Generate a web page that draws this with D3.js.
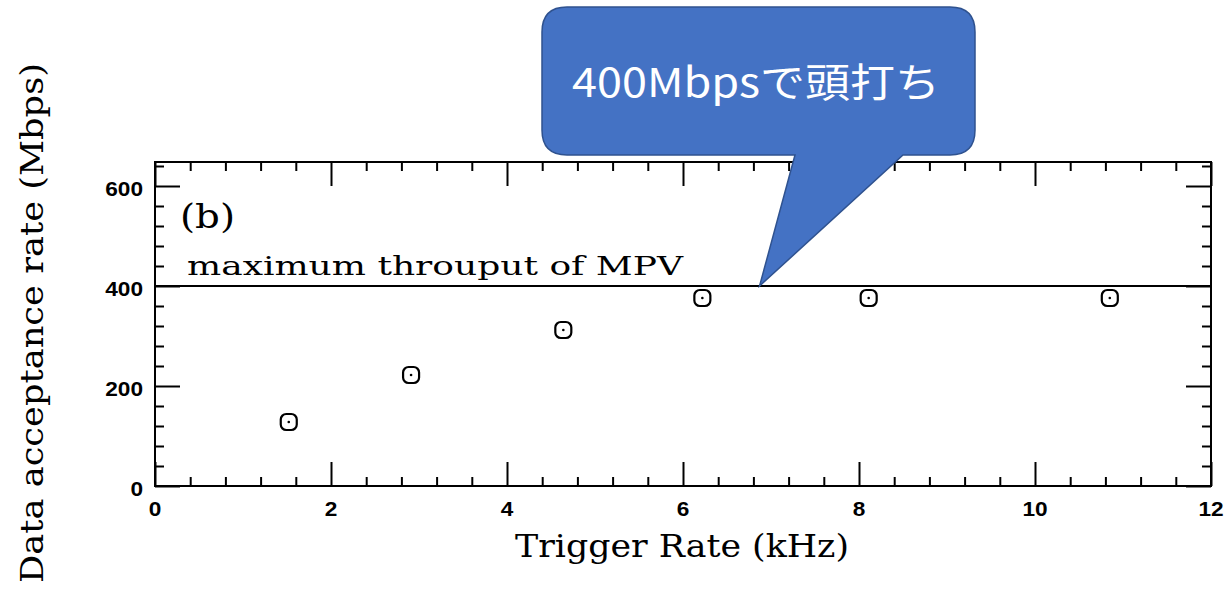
<!DOCTYPE html>
<html><head><meta charset="utf-8">
<script src="https://cdn.jsdelivr.net/npm/d3@7"></script>
<style>body{margin:0;background:#fff}</style>
</head><body>
<script>
const triggerRate = [1.52, 2.91, 4.64, 6.22, 8.11, 10.85];
const acceptance  = [128, 222, 312, 376, 376, 376];
const xTicks = [0, 2, 4, 6, 8, 10, 12];
const yTicks = [0, 200, 400, 600];
const maxThroughput = 400;
const calloutText = "400Mbpsで頭打ち";

const W = 1228, H = 590;
const svg = d3.select("body").append("svg").attr("width", W).attr("height", H);
const m = {l:155, r:1211, t:162, b:486};
const x = d3.scaleLinear().domain([0,12]).range([m.l, m.r]);
const y = d3.scaleLinear().domain([0,648]).range([m.b, m.t]);

const g = svg.append("g");
g.append("rect").attr("x",m.l).attr("y",m.t).attr("width",m.r-m.l).attr("height",m.b-m.t)
 .attr("fill","none").attr("stroke","#000").attr("stroke-width",2);

const xMinor = d3.range(0, 12.001, 0.4).filter(v => Math.abs(v/2 - Math.round(v/2))>1e-6);
const yMinor = d3.range(0, 648, 40).filter(v => v%200!==0);

function ticks(axisFn, vals, len, pos){
  const a = axisFn.tickValues(vals).tickSize(len).tickFormat("");
  const gg = g.append("g").attr("transform", pos).call(a);
  gg.select(".domain").remove();
  gg.selectAll("line").attr("stroke","#000").attr("stroke-width",2);
  return gg;
}
ticks(d3.axisTop(x), xTicks, 24, `translate(0,${m.b})`);
ticks(d3.axisTop(x), xMinor, 9, `translate(0,${m.b})`);
ticks(d3.axisBottom(x), xTicks, 24, `translate(0,${m.t})`);
ticks(d3.axisBottom(x), xMinor, 9, `translate(0,${m.t})`);
ticks(d3.axisRight(y), yTicks, 25, `translate(${m.l},0)`);
ticks(d3.axisRight(y), yMinor, 9, `translate(${m.l},0)`);
ticks(d3.axisLeft(y), yTicks, 25, `translate(${m.r},0)`);
ticks(d3.axisLeft(y), yMinor, 9, `translate(${m.r},0)`);

const tf = "Liberation Sans, Arial, sans-serif";
g.selectAll(".xl").data(xTicks).enter().append("text")
 .attr("x", d=>x(d)).attr("y", m.b+30).attr("text-anchor","middle")
 .attr("font-family",tf).attr("font-weight","bold").attr("font-size",21)
 .attr("textLength", d=>String(d).length*12.6).attr("lengthAdjust","spacingAndGlyphs").text(d=>d);
g.selectAll(".yl").data(yTicks).enter().append("text")
 .attr("x", m.l-12).attr("y", d=>y(d)+10).attr("text-anchor","end")
 .attr("font-family",tf).attr("font-weight","bold").attr("font-size",20)
 .attr("textLength", d=>String(d).length*12.6).attr("lengthAdjust","spacingAndGlyphs").text(d=>d);

g.append("line").attr("x1",m.l).attr("x2",m.r).attr("y1",y(maxThroughput)).attr("y2",y(maxThroughput))
 .attr("stroke","#000").attr("stroke-width",2);

const sf = "DejaVu Serif, Liberation Serif, serif";
g.append("text").attr("x",187).attr("y",275).attr("font-family",sf).attr("font-size",26)
 .attr("textLength",496).attr("lengthAdjust","spacingAndGlyphs").text("maximum throuput of MPV");
g.append("text").attr("x",180).attr("y",228).attr("font-family",sf).attr("font-size",33)
 .attr("textLength",55).attr("lengthAdjust","spacingAndGlyphs").text("(b)");

g.append("text").attr("x",515).attr("y",557)
 .attr("font-family",sf).attr("font-size",31).attr("textLength",334).attr("lengthAdjust","spacingAndGlyphs")
 .text("Trigger Rate (kHz)");
g.append("text").attr("transform","translate(43,323) rotate(-90)").attr("text-anchor","middle")
 .attr("font-family",sf).attr("font-size",31).attr("textLength",520).attr("lengthAdjust","spacingAndGlyphs")
 .text("Data acceptance rate (Mbps)");

const pts = g.selectAll(".pt").data(triggerRate.map((d,i)=>[d,acceptance[i]])).enter().append("g")
 .attr("transform", d=>`translate(${x(d[0])},${y(d[1])})`);
pts.append("rect").attr("x",-8).attr("y",-8).attr("width",16).attr("height",16).attr("rx",5.5)
 .attr("fill","none").attr("stroke","#000").attr("stroke-width",2.2);
pts.append("circle").attr("r",1.3).attr("fill","#000");

const cx0=542, cx1=975, cy0=7, cy1=155, r=25;
const tip=[x(6.87), y(maxThroughput)];
const path = `M${cx0+r},${cy0} H${cx1-r} Q${cx1},${cy0} ${cx1},${cy0+r} V${cy1-r} Q${cx1},${cy1} ${cx1-r},${cy1}
 H903 L${tip[0]},${tip[1]} L795,${cy1} H${cx0+r} Q${cx0},${cy1} ${cx0},${cy1-r} V${cy0+r} Q${cx0},${cy0} ${cx0+r},${cy0} Z`;
svg.append("path").attr("d",path).attr("fill","#4472C4").attr("stroke","#2F528F").attr("stroke-width",1.5);
svg.append("text").attr("x",572).attr("y",97)
 .attr("font-family","Noto Sans CJK JP, Noto Sans, sans-serif").attr("font-size",40).attr("fill","#fff")
 .attr("textLength",368).attr("lengthAdjust","spacingAndGlyphs").text(calloutText);
</script>
</body></html>
